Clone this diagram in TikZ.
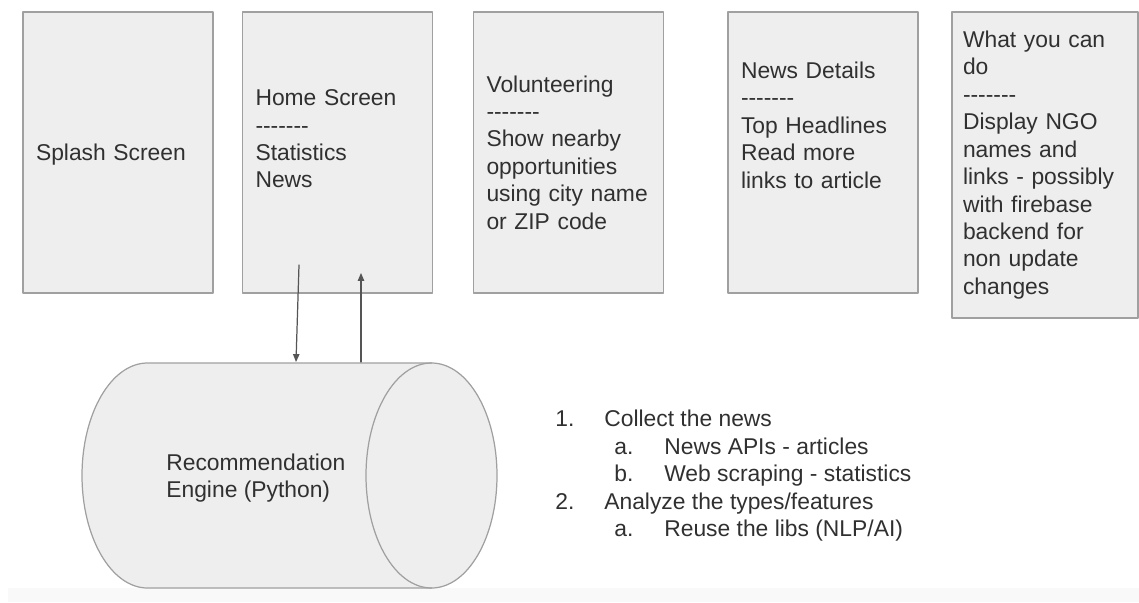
\documentclass[tikz,border=0pt]{standalone}
\usepackage{fontspec}
\setmainfont{Liberation Sans}
\usetikzlibrary{arrows.meta,calc}
\definecolor{screenfill}{RGB}{238,238,238}
\definecolor{screenline}{RGB}{160,160,160}
\definecolor{inktext}{RGB}{48,48,48}
\definecolor{flowgray}{RGB}{85,85,85}
\newcommand{\sepdash}{-{}-{}-{}-{}-{}-{}-}

\begin{document}
\begin{tikzpicture}[x=0.02cm,y=-0.02cm,line cap=round,line join=round,
  >={Triangle[length=4.5pt,width=3.6pt]},
  every node/.style={font=\fontsize{13pt}{15.6pt}\selectfont,text=inktext},
  screen/.style={draw=screenline,fill=screenfill,line width=1.1pt,
   minimum width=3.8cm,minimum height=5.62cm,text width=3.28cm,
   inner xsep=0.2cm,align=left},
  flow/.style={->,draw=flowgray,line width=0.7pt}]
 \useasboundingbox (0,0) rectangle (1139,602);
 \fill[gray!5] (8,588) rectangle (1139,602);
 % app screens
 \node[screen,text depth=0pt] (splash) at (118,152.5) {Splash Screen};
 \node[screen] (home) at (337.5,152.5)
  {Home Screen\\\sepdash\\Statistics\\News\\~};
 \node[screen] (volunteer) at (568.5,152.5)
  {Volunteering\\\sepdash\\Show nearby\\opportunities\\using city name\\or ZIP code};
 \node[screen] (details) at (823,152.5)
  {News Details\\\sepdash\\Top Headlines\\Read more\\links to article\\~\\~};
 \node[screen,minimum width=3.72cm,minimum height=6.12cm] (whatcan) at (1045,165)
  {What you can\\do\\\sepdash\\Display NGO\\names and\\links - possibly\\with firebase\\backend for\\non update\\changes};
 % backend cylinder
 \filldraw[draw=screenline,fill=screenfill,line width=0.7pt]
  (431.5,363) -- (147.5,363) arc (270:90:65.5 and 112.5)
  -- (431.5,588) arc (90:-90:65.5 and 112.5) -- cycle;
 \draw[screenline,line width=0.7pt] (431.5,363) arc (270:90:65.5 and 112.5);
 \node[minimum width=8.3cm,minimum height=4.5cm,inner sep=0pt,outer sep=0pt]
  (engine) at (289.5,475.5) {};
 \node[anchor=north west,inner sep=0pt,align=left] (englabel) at (166,453.3)
  {Recommendation\\Engine (Python)};
 \draw[flow] ($(home.south)+(-38.5,-29)$) -- ($(engine.north)+(6.5,-1)$);
 \draw[flow] ($(engine.north)+(71.5,-1)$) -- ($(home.south)+(23.5,-21)$);
 % plan
 \node[anchor=north west,inner sep=0pt,align=left] (steps) at (555,410) {%
  \makebox[9.8mm][l]{1.}Collect the news\\
  \hspace*{11.8mm}\makebox[10mm][l]{a.}News APIs - articles\\
  \hspace*{11.8mm}\makebox[10mm][l]{b.}Web scraping - statistics\\
  \makebox[9.8mm][l]{2.}Analyze the types/features\\
  \hspace*{11.8mm}\makebox[10mm][l]{a.}Reuse the libs (NLP/AI)};
\end{tikzpicture}
\end{document}
